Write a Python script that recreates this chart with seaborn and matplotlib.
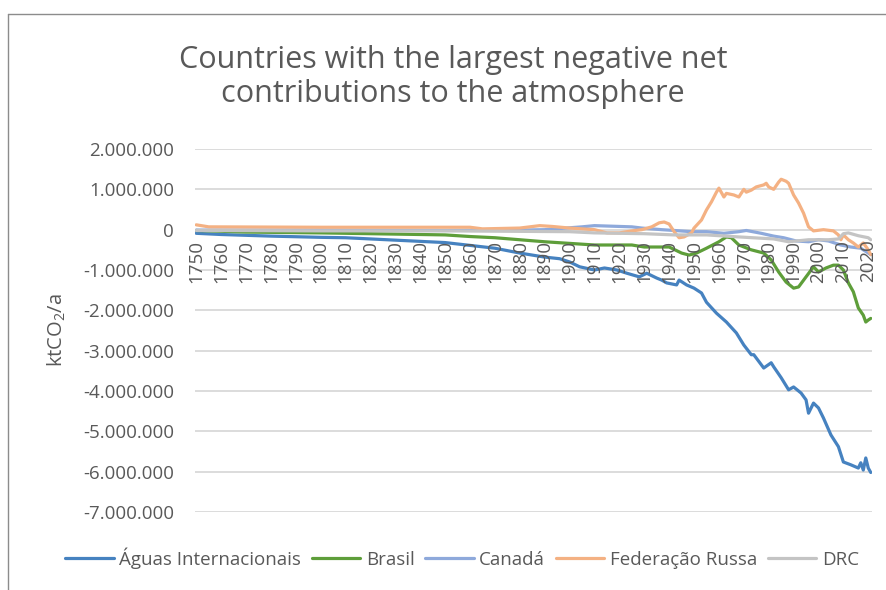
import matplotlib
matplotlib.use("Agg")
import matplotlib.pyplot as plt
import matplotlib.transforms as mtransforms
from matplotlib.lines import Line2D
from matplotlib.ticker import FuncFormatter, MultipleLocator
import pandas as pd
import seaborn as sns

# Net contributions to the atmosphere, ktCO2 per year
anos_aguas = [1750, 1760, 1780, 1800, 1810, 1820, 1840, 1850, 1860, 1870, 1880, 1890, 1896,
              1900, 1904, 1910, 1914, 1919, 1923, 1928, 1931, 1935, 1937, 1939, 1943, 1944,
              1947, 1950, 1953, 1955, 1959, 1963, 1967, 1970, 1973, 1974, 1978, 1981, 1982,
              1985, 1988, 1990, 1993, 1995, 1996, 1998, 2000, 2002, 2005, 2008, 2010, 2013,
              2016, 2017, 2018, 2019, 2020, 2021]
aguas = [-90000, -120000, -160000, -190000, -200000, -230000, -290000, -320000, -390000,
         -460000, -580000, -680000, -720000, -800000, -920000, -1000000, -950000, -1000000,
         -1080000, -1170000, -1080000, -1200000, -1250000, -1320000, -1370000, -1250000,
         -1370000, -1450000, -1570000, -1800000, -2070000, -2290000, -2560000, -2860000,
         -3100000, -3100000, -3430000, -3300000, -3400000, -3670000, -3970000, -3900000,
         -4050000, -4220000, -4550000, -4300000, -4420000, -4670000, -5090000, -5380000,
         -5760000, -5830000, -5910000, -5780000, -5960000, -5660000, -5910000, -6020000]

anos_brasil = [1750, 1770, 1800, 1830, 1850, 1860, 1870, 1890, 1910, 1925, 1930, 1940, 1945,
               1948, 1951, 1955, 1960, 1963, 1965, 1968, 1973, 1978, 1981, 1984, 1987, 1990,
               1992, 1995, 1998, 2000, 2003, 2006, 2008, 2010, 2012, 2014, 2016, 2018, 2019,
               2020, 2021]
brasil = [-20000, -60000, -80000, -110000, -130000, -170000, -200000, -300000, -380000,
          -380000, -430000, -430000, -580000, -630000, -580000, -460000, -300000, -180000,
          -200000, -380000, -500000, -580000, -750000, -1050000, -1300000, -1450000,
          -1420000, -1170000, -920000, -1050000, -950000, -880000, -880000, -1000000,
          -1320000, -1540000, -1940000, -2120000, -2290000, -2240000, -2200000]

anos_canada = [1750, 1800, 1850, 1880, 1890, 1905, 1910, 1920, 1925, 1929, 1937, 1942, 1949,
               1955, 1962, 1968, 1971, 1977, 1982, 1986, 1991, 1996, 2000, 2004, 2009, 2013,
               2017, 2021]
canada = [-10000, -10000, -20000, -10000, 0, 70000, 100000, 80000, 70000, 40000, 0, -20000,
          -50000, -50000, -90000, -50000, -20000, -90000, -160000, -200000, -280000, -300000,
          -250000, -280000, -380000, -430000, -460000, -620000]

anos_russia = [1750, 1755, 1800, 1850, 1860, 1865, 1880, 1888, 1893, 1900, 1910, 1915, 1920,
               1925, 1929, 1933, 1936, 1938, 1940, 1942, 1944, 1946, 1949, 1950, 1953, 1955,
               1957, 1959, 1960, 1962, 1963, 1966, 1968, 1970, 1971, 1973, 1975, 1978, 1979,
               1980, 1982, 1984, 1985, 1987, 1988, 1990, 1992, 1994, 1995, 1996, 1998, 2002,
               2006, 2008, 2009, 2010, 2012, 2014, 2016, 2018, 2020, 2021]
russia = [120000, 70000, 60000, 60000, 60000, 20000, 40000, 100000, 80000, 40000, 0, -80000,
          -80000, -30000, 0, 70000, 170000, 190000, 140000, -50000, -200000, -180000, -80000,
          40000, 240000, 490000, 690000, 930000, 1030000, 810000, 900000, 860000, 810000,
          1000000, 930000, 980000, 1060000, 1110000, 1150000, 1060000, 1000000, 1180000,
          1250000, 1200000, 1150000, 860000, 660000, 410000, 240000, 70000, -30000, 0,
          -30000, -130000, -250000, -130000, -250000, -330000, -430000, -330000, -500000,
          -620000]

anos_drc = [1750, 1800, 1850, 1900, 1910, 1930, 1942, 1955, 1968, 1982, 1988, 1996, 2004,
            2008, 2010, 2012, 2016, 2020, 2021]
drc = [-20000, -30000, -30000, -50000, -80000, -100000, -130000, -130000, -180000, -230000,
       -300000, -250000, -250000, -230000, -100000, -80000, -150000, -200000, -250000]

paises = ["Águas Internacionais", "Brasil", "Canadá", "Federação Russa", "DRC"]
cores = ["#4682C0", "#5E9E3A", "#8EA9DB", "#F4B183", "#C4C4C4"]
ticks_anos = list(range(1750, 2021, 10))

df = pd.concat([
    pd.DataFrame({"Ano": a, "ktCO2": v, "País": p})
    for p, a, v in zip(paises,
                       [anos_aguas, anos_brasil, anos_canada, anos_russia, anos_drc],
                       [aguas, brasil, canada, russia, drc])
], ignore_index=True)

sns.set_style("white")
plt.rcParams["font.family"] = ["Open Sans", "DejaVu Sans"]
plt.rcParams["mathtext.fontset"] = "custom"
plt.rcParams["mathtext.rm"] = "Open Sans"
plt.rcParams["mathtext.it"] = "Open Sans"
plt.rcParams["mathtext.default"] = "regular"

texto = "#595959"
fs = 13.5
W, H = 886, 590
fig = plt.figure(figsize=(W / 100, H / 100), dpi=100)
ax = fig.add_axes([195 / W, 1 - 512 / H, (872 - 195) / W, (512 - 149) / H])

sns.lineplot(data=df, x="Ano", y="ktCO2", hue="País", hue_order=paises,
             palette=cores, estimator=None, sort=True, linewidth=2.3,
             ax=ax, legend=False)

ax.set_xlim(1749.5, 2021.5)
ax.set_ylim(-7_000_000, 2_000_000)
ax.yaxis.set_major_locator(MultipleLocator(1_000_000))
ax.yaxis.set_major_formatter(FuncFormatter(lambda v, _: f"{int(round(v)):,}".replace(",", ".")))
ax.grid(axis="y", color="#D9D9D9", linewidth=1.3)
ax.grid(axis="x", visible=False)
ax.set_axisbelow(True)
for s in ax.spines.values():
    s.set_visible(False)
ax.tick_params(axis="y", length=0, pad=15, labelsize=fs, labelcolor=texto)
ax.set_xticks([])
ax.set_xlabel("")
ax.set_ylabel("")

# Year labels hang below the zero line
off = mtransforms.offset_copy(ax.transData, fig=fig, x=0, y=-10, units="dots")
for yr in ticks_anos:
    ax.text(yr, 0, str(yr), rotation=90, ha="center", va="top", transform=off,
            fontsize=fs, color=texto)

fig.text(57 / W, 1 - 330 / H, "ktCO$_2$/a", rotation=90, ha="center", va="center",
         fontsize=14.5, color=texto)

fig.text(453 / W, 1 - 77 / H,
         "Countries with the largest negative net\ncontributions to the atmosphere",
         ha="center", va="center", fontsize=22, color=texto, linespacing=1.2)

handles = [Line2D([], [], color=c, linewidth=2.3) for c in cores]
fig.legend(handles, paises, loc="center", bbox_to_anchor=(462 / W, 1 - 558 / H),
           ncol=5, frameon=False, handlelength=2.6, handletextpad=0.3,
           columnspacing=0.55, fontsize=fs, labelcolor=texto)

# Chart frame edges
fig.add_artist(Line2D([7.5 / W, 1], [1 - 13.5 / H] * 2, transform=fig.transFigure,
                      color="#8C8C8C", linewidth=1))
fig.add_artist(Line2D([7.5 / W] * 2, [0, 1 - 13.5 / H], transform=fig.transFigure,
                      color="#8C8C8C", linewidth=1))

fig.savefig("out.png", dpi=100, facecolor="white")
